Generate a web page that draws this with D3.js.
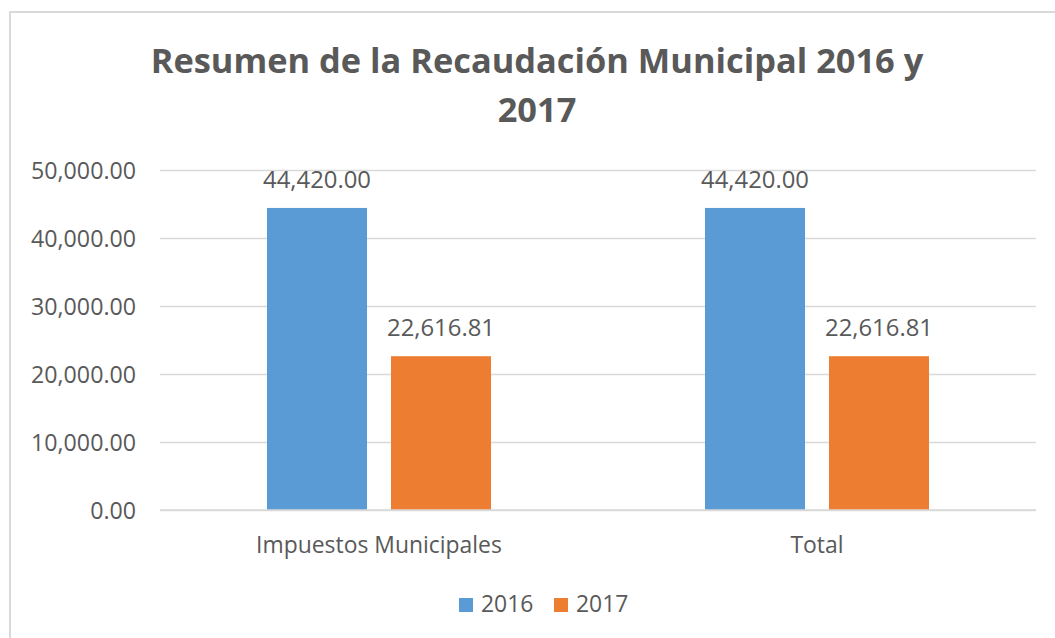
<!DOCTYPE html>
<html>
<head>
<meta charset="utf-8">
<script src="https://cdn.jsdelivr.net/npm/d3@7"></script>
<style>
  body { margin: 0; background: #fff; }
  svg { display: block; font-family: "Open Sans", sans-serif; }
</style>
</head>
<body>
<div id="chart"></div>
<script>
// datos
const categories = ["Impuestos Municipales", "Total"];
const series = ["2016", "2017"];
const values2016 = [44420.00, 44420.00];
const values2017 = [22616.81, 22616.81];
const yTicks = [0, 10000, 20000, 30000, 40000, 50000];
const titleLines = ["Resumen de la Recaudación Municipal 2016 y", "2017"];

const width = 1055;
const height = 638;
const colors = { "2016": "#5B9BD5", "2017": "#ED7D31" };
const textColor = "#595959";

const svg = d3.select("#chart")
  .append("svg")
  .attr("width", width)
  .attr("height", height);

// borde del gráfico (se sale por la derecha y abajo)
svg.append("rect")
  .attr("x", 10).attr("y", 12)
  .attr("width", 1060).attr("height", 640)
  .attr("fill", "#fff")
  .attr("stroke", "#d9d9d9")
  .attr("stroke-width", 2);

// tamaño de letra que hace que un texto ocupe el ancho deseado
function fitSize(str, target, weight) {
  const t = svg.append("text")
    .attr("font-size", 100)
    .attr("font-weight", weight || "normal")
    .text(str);
  const w = t.node().getComputedTextLength();
  t.remove();
  return 100 * target / w;
}

const tickSize = fitSize("50,000.00", 105);
const labelSize = fitSize("44,420.00", 108);
const catSize = fitSize("Impuestos Municipales", 246);
const titleSize = fitSize(titleLines[0], 773, "bold");

const margin = { left: 160, right: 19, top: 170, bottom: 128 };
const plotW = width - margin.left - margin.right;

const y = d3.scaleLinear()
  .domain([0, 50000])
  .range([510, 170]);

const x0 = d3.scaleBand()
  .domain(categories)
  .range([margin.left, margin.left + plotW])
  .paddingInner(0.4886)
  .paddingOuter(0.2443);

const x1 = d3.scaleBand()
  .domain(series)
  .range([0, x0.bandwidth()])
  .paddingInner(0.1935);

// título
svg.append("g")
  .selectAll("text")
  .data(titleLines)
  .enter().append("text")
  .attr("x", 537)
  .attr("y", (d, i) => 73 + i * 49)
  .attr("text-anchor", "middle")
  .attr("font-size", titleSize)
  .attr("font-weight", "bold")
  .attr("fill", textColor)
  .text(d => d);

// líneas de la cuadrícula y eje Y
const fmt = d3.format(",.2f");
const yAxis = svg.append("g")
  .attr("transform", `translate(${margin.left},0)`)
  .call(d3.axisLeft(y).tickValues(yTicks).tickSize(-plotW).tickPadding(24).tickFormat(fmt));
yAxis.select(".domain").remove();
yAxis.selectAll(".tick line").attr("stroke", "#d9d9d9").attr("stroke-width", 1.3);
yAxis.selectAll(".tick text")
  .attr("font-size", tickSize)
  .attr("font-family", "Open Sans, sans-serif")
  .attr("fill", textColor)
  .attr("dy", "0.35em");

// barras
const rows = categories.map((c, i) => ({ cat: c, vals: [values2016[i], values2017[i]] }));

const groups = svg.append("g")
  .selectAll("g")
  .data(rows)
  .enter().append("g")
  .attr("transform", d => `translate(${x0(d.cat)},0)`);

groups.selectAll("rect")
  .data(d => d.vals.map((v, j) => ({ key: series[j], value: v })))
  .enter().append("rect")
  .attr("x", d => x1(d.key))
  .attr("y", d => y(d.value))
  .attr("width", x1.bandwidth())
  .attr("height", d => y(0) - y(d.value))
  .attr("fill", d => colors[d.key]);

groups.selectAll("text")
  .data(d => d.vals.map((v, j) => ({ key: series[j], value: v })))
  .enter().append("text")
  .attr("x", d => x1(d.key) + x1.bandwidth() / 2)
  .attr("y", d => y(d.value) - 20)
  .attr("text-anchor", "middle")
  .attr("font-size", labelSize)
  .attr("fill", textColor)
  .text(d => fmt(d.value));

// línea base
svg.append("line")
  .attr("x1", margin.left).attr("x2", margin.left + plotW)
  .attr("y1", y(0)).attr("y2", y(0))
  .attr("stroke", "#d9d9d9").attr("stroke-width", 1.5);

// etiquetas de categoría
svg.append("g")
  .selectAll("text")
  .data(categories)
  .enter().append("text")
  .attr("x", d => x0(d) + x0.bandwidth() / 2)
  .attr("y", 553)
  .attr("text-anchor", "middle")
  .attr("font-size", catSize)
  .attr("fill", textColor)
  .text(d => d);

// leyenda
const legendX = [459, 554];
const legend = svg.append("g")
  .selectAll("g")
  .data(series)
  .enter().append("g")
  .attr("transform", (d, i) => `translate(${legendX[i]},598)`);

legend.append("rect")
  .attr("width", 14).attr("height", 14)
  .attr("fill", d => colors[d]);

legend.append("text")
  .attr("x", 22)
  .attr("y", 14)
  .attr("font-size", catSize)
  .attr("fill", textColor)
  .text(d => d);
</script>
</body>
</html>
